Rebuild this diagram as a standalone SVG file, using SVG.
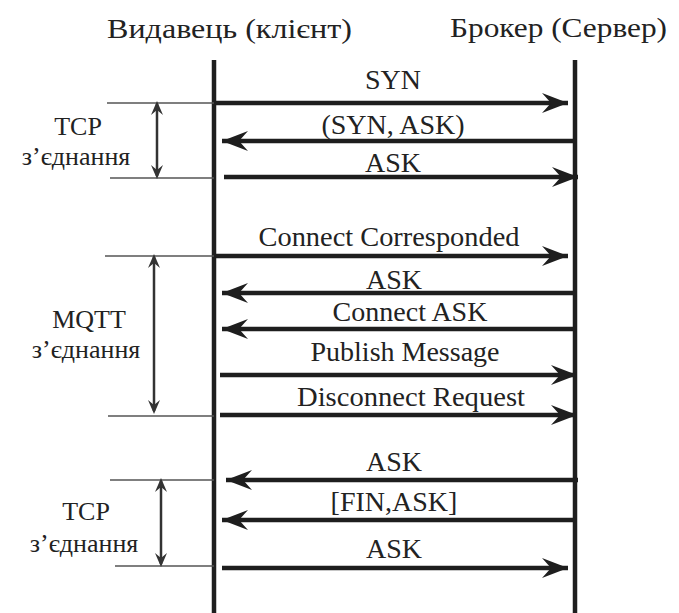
<svg xmlns="http://www.w3.org/2000/svg" width="679" height="613" viewBox="0 0 679 613">
<defs>
<style>
text{font-family:"Liberation Serif","Times New Roman",serif;fill:#222}
.msg{font-size:28px;text-anchor:middle}
.hdr{font-size:27px}
.side{font-size:26px;text-anchor:middle}
.life{stroke:#1e1e1e;stroke-width:4.5;fill:none}
.arr{stroke:#1e1e1e;stroke-width:4.5;fill:none;marker-end:url(#ah)}
.thin{stroke:#555;stroke-width:1.4;fill:none}
.dbl{stroke:#333;stroke-width:2.5;fill:none;marker-start:url(#sh);marker-end:url(#sh)}
</style>
<marker id="ah" viewBox="-28 -11 30 22" refX="0" refY="0" markerWidth="30" markerHeight="22" markerUnits="userSpaceOnUse" orient="auto">
<path d="M0,0 L-26,-10 L-17,0 L-26,10 Z" fill="#1e1e1e"/>
</marker>
<marker id="sh" viewBox="-16 -7 18 14" refX="-3" refY="0" markerWidth="18" markerHeight="14" markerUnits="userSpaceOnUse" orient="auto-start-reverse">
<path d="M0,0 L-14,-6 L-9,0 L-14,6 Z" fill="#333"/>
</marker>
</defs>
<rect width="679" height="613" fill="#fff"/>
<g id="client">
<text class="hdr" x="107" y="38" textLength="245" lengthAdjust="spacingAndGlyphs">Видавець (клієнт)</text>
<line class="life" x1="214" y1="60" x2="214" y2="613"/>
</g>
<g id="broker">
<text class="hdr" x="450" y="37" textLength="217" lengthAdjust="spacingAndGlyphs">Брокер (Сервер)</text>
<line class="life" x1="575" y1="60" x2="575" y2="613"/>
</g>
<g id="tcp-open">
<line class="thin" x1="107" y1="103" x2="214" y2="103"/>
<line class="thin" x1="110" y1="178" x2="214" y2="178"/>
<line class="dbl" x1="157" y1="104" x2="157" y2="176"/>
<text class="side" x="78" y="135">TCP</text>
<text class="side" x="76" y="165">з’єднання</text>
</g>
<g id="mqtt">
<line class="thin" x1="105" y1="256" x2="214" y2="256"/>
<line class="thin" x1="108" y1="416" x2="214" y2="416"/>
<line class="dbl" x1="154" y1="257" x2="154" y2="411"/>
<text class="side" x="89" y="328">MQTT</text>
<text class="side" x="86" y="358">з’єднання</text>
</g>
<g id="tcp-close">
<line class="thin" x1="110" y1="480" x2="214" y2="480"/>
<line class="thin" x1="115" y1="566" x2="214" y2="566"/>
<line class="dbl" x1="161" y1="481" x2="161" y2="564"/>
<text class="side" x="86" y="520">TCP</text>
<text class="side" x="84" y="552">з’єднання</text>
</g>
<g id="connectors">
<line class="arr" x1="214" y1="103" x2="568" y2="103"/>
<line class="arr" x1="575" y1="141" x2="222" y2="141"/>
<line class="arr" x1="224" y1="177" x2="578" y2="177"/>
<line class="arr" x1="214" y1="256" x2="568" y2="256"/>
<line class="arr" x1="575" y1="293" x2="222" y2="293"/>
<line class="arr" x1="575" y1="329" x2="222" y2="329"/>
<line class="arr" x1="220" y1="375" x2="577" y2="375"/>
<line class="arr" x1="220" y1="415" x2="577" y2="415"/>
<line class="arr" x1="578" y1="480" x2="226" y2="480"/>
<line class="arr" x1="575" y1="520" x2="222" y2="520"/>
<line class="arr" x1="222" y1="568" x2="568" y2="568"/>
</g>
<g id="labels">
<text class="msg" x="393" y="89">SYN</text>
<text class="msg" x="393" y="134">(SYN, ASK)</text>
<text class="msg" x="393" y="172">ASK</text>
<text class="msg" x="389" y="246" textLength="261" lengthAdjust="spacingAndGlyphs">Connect Corresponded</text>
<text class="msg" x="394" y="289">ASK</text>
<text class="msg" x="410" y="321">Connect ASK</text>
<text class="msg" x="405" y="361">Publish Message</text>
<text class="msg" x="411" y="406" textLength="228" lengthAdjust="spacingAndGlyphs">Disconnect Request</text>
<text class="msg" x="394" y="471">ASK</text>
<text class="msg" x="394" y="511">[FIN,ASK]</text>
<text class="msg" x="394" y="558">ASK</text>
</g>
</svg>
